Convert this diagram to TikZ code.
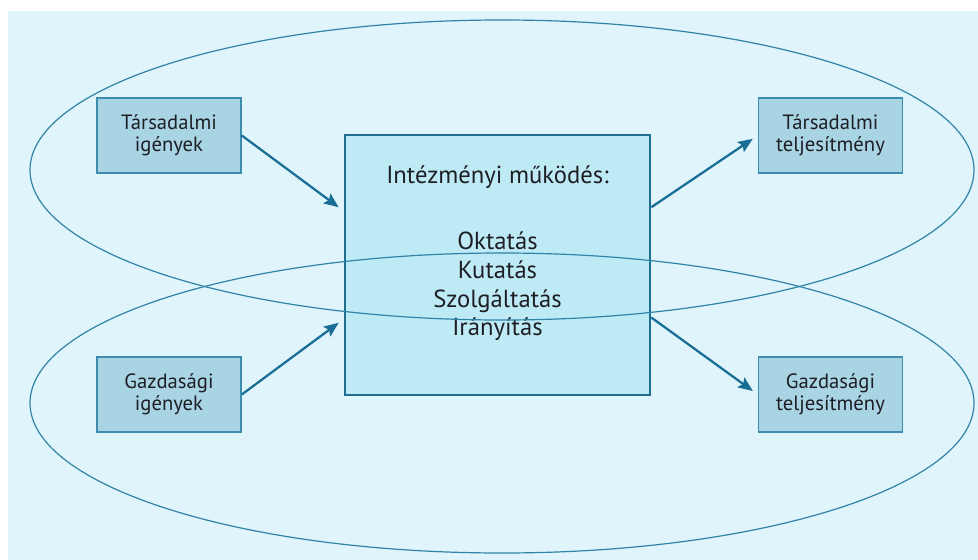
\documentclass[tikz,border=0pt]{standalone}
\usepackage{fontspec}
\setmainfont{PT Sans}
\usepackage{tikz}
\usetikzlibrary{calc}
\usetikzlibrary{arrows.meta}
\definecolor{bgblue}{HTML}{DFF4FB}
\definecolor{midfill}{HTML}{BEEAF6}
\definecolor{boxfill}{HTML}{A8D4E4}
\definecolor{boxline}{HTML}{3C8CAF}
\definecolor{midline}{HTML}{1E6E91}
\definecolor{arrowcol}{HTML}{196E96}
\definecolor{ringcol}{HTML}{3283A8}
\definecolor{inkcol}{HTML}{1E1E24}
\tikzset{
   smallbox/.style={draw=boxline, line width=1.2pt, fill=boxfill,
      minimum width=108pt, minimum height=56.25pt, align=center,
      text=inkcol, font=\fontsize{15.5}{16.5}\selectfont},
   midbox/.style={draw=midline, line width=2pt, fill=midfill,
      minimum width=228.75pt, minimum height=195pt},
   midtext/.style={align=center, text=inkcol,
      font=\fontsize{18.5}{21.5}\selectfont},
   ring/.style={draw=ringcol, line width=0.9pt},
   flow/.style={draw=arrowcol, line width=1.7pt,
      -{Stealth[length=11pt,width=9pt,inset=2pt]}},
    }
\begin{document}
\begin{tikzpicture}[x=0.75pt,y=-0.75pt]
        \useasboundingbox (0,0) rectangle (978,560);
        \fill[bgblue] (8,11) rectangle (978,560); % hatter

        % boxes
        \node[smallbox] (tsi) at (169,135.5) {Társadalmi\\igények};
        \node[smallbox] (gsi) at (169,394.5) {Gazdasági\\igények};
        \node[smallbox] (tte) at (830.5,135.5) {Társadalmi\\teljesítmény};
        \node[smallbox] (gte) at (830.5,394.5) {Gazdasági\\teljesítmény};
        \node[midbox] (mid) at (497.5,265) {};
        \node[midtext] (midlbl) at (497.5,253)
            {Intézményi működés:\\[28.5pt]Oktatás\\Kutatás\\Szolgáltatás\\Irányítás};

        % ellipses
            \def \cx{502}
            \def \rx{472}
            \def \ry{150}
            \draw[ring] (\cx,170) ellipse ({\rx} and {\ry});
            \draw[ring] (\cx,403) ellipse ({\rx} and {\ry});

        % arrows
        \coordinate (inA) at ($(mid.north west)!0.28!(mid.south west)+(-5,0)$);
        \coordinate (inB) at ($(mid.north west)!0.72!(mid.south west)+(-5,0)$);
        \coordinate (outA) at ($(mid.north east)!0.28!(mid.south east)$);
        \coordinate (outB) at ($(mid.north east)!0.70!(mid.south east)$);
        \draw[flow] (tsi.east) -- (inA);
        \draw[flow] (gsi.east) -- (inB);
        \draw[flow,shorten >=4.5pt] (outA) -- (tte.west);
        \draw[flow,shorten >=4.5pt] (outB) -- (gte.west);

        \end{tikzpicture}
\end{document}
